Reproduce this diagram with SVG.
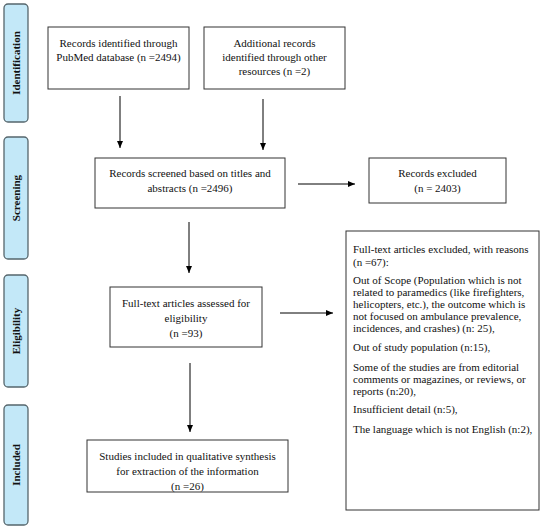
<svg xmlns="http://www.w3.org/2000/svg" width="550" height="529" viewBox="0 0 550 529">
<defs>
<marker id="ah" markerWidth="7" markerHeight="6" refX="7" refY="3" orient="auto" markerUnits="userSpaceOnUse">
<path d="M0,0 L7,3 L0,6 Z" fill="#000"/>
</marker>
<style>
.tab{fill:#C3E8F8;stroke:#56666c;stroke-width:1.3}
.box{fill:#fff;stroke:#333;stroke-width:1}
.tl{font-family:"Liberation Serif","Times New Roman",serif;font-size:11px;font-weight:bold;fill:#111;text-anchor:middle}
.t{font-family:"Liberation Serif","Times New Roman",serif;font-size:11px;fill:#111;text-anchor:middle}
.tL{font-family:"Liberation Serif","Times New Roman",serif;font-size:11px;fill:#111}
.c{stroke:#000;stroke-width:1;fill:none;marker-end:url(#ah)}
</style>
</defs>
<rect width="550" height="529" fill="#fff"/>
<g id="tab-identification"><rect class="tab" x="4" y="4" width="24" height="118" rx="4"/><text class="tl" transform="translate(20,63) rotate(-90)">Identification</text></g>
<g id="tab-screening"><rect class="tab" x="4" y="137" width="24" height="122" rx="4"/><text class="tl" transform="translate(20,198) rotate(-90)">Screening</text></g>
<g id="tab-eligibility"><rect class="tab" x="4" y="275" width="24" height="112" rx="4"/><text class="tl" transform="translate(20,331) rotate(-90)">Eligibility</text></g>
<g id="tab-included"><rect class="tab" x="4" y="405" width="24" height="120" rx="4"/><text class="tl" transform="translate(20,465) rotate(-90)">Included</text></g>

<g id="node-pubmed"><rect class="box" x="48" y="27" width="141" height="62"/>
<text class="t" x="118.5" y="47">Records identified through</text>
<text class="t" x="118.5" y="61">PubMed database (n =2494)</text></g>
<g id="node-additional"><rect class="box" x="204" y="27" width="141" height="62"/>
<text class="t" x="274.5" y="47">Additional records</text>
<text class="t" x="274.5" y="61">identified through other</text>
<text class="t" x="274.5" y="75">resources (n =2)</text></g>
<g id="node-screened"><rect class="box" x="95" y="158" width="190" height="50"/>
<text class="t" x="190" y="177">Records screened based on titles and</text>
<text class="t" x="190" y="192">abstracts (n =2496)</text></g>
<g id="node-excluded"><rect class="box" x="369" y="158" width="137" height="45"/>
<text class="t" x="437.5" y="177">Records excluded</text>
<text class="t" x="437.5" y="192">(n = 2403)</text></g>
<g id="node-eligibility"><rect class="box" x="110" y="287" width="152" height="60"/>
<text class="t" x="186" y="307">Full-text articles assessed for</text>
<text class="t" x="186" y="322">eligibility</text>
<text class="t" x="186" y="337">(n =93)</text></g>
<g id="node-included"><rect class="box" x="87" y="440" width="201" height="52"/>
<text class="t" x="187.5" y="460">Studies included in qualitative synthesis</text>
<text class="t" x="187.5" y="475">for extraction of the information</text>
<text class="t" x="187.5" y="490">(n =26)</text></g>
<g id="node-reasons"><rect class="box" x="346" y="231" width="193" height="279"/>
<text class="tL" x="353" y="253">Full-text articles excluded, with reasons</text>
<text class="tL" x="353" y="266">(n =67):</text>
<text class="tL" x="353" y="284">Out of Scope (Population which is not</text>
<text class="tL" x="353" y="296">related to paramedics (like firefighters,</text>
<text class="tL" x="353" y="308">helicopters, etc.), the outcome which is</text>
<text class="tL" x="353" y="320">not focused on ambulance prevalence,</text>
<text class="tL" x="353" y="332">incidences, and crashes) (n: 25),</text>
<text class="tL" x="353" y="351">Out of study population (n:15),</text>
<text class="tL" x="353" y="371">Some of the studies are from editorial</text>
<text class="tL" x="353" y="383">comments or magazines, or reviews, or</text>
<text class="tL" x="353" y="395">reports (n:20),</text>
<text class="tL" x="353" y="413">Insufficient detail (n:5),</text>
<text class="tL" x="353" y="433">The language which is not English (n:2),</text></g>

<g id="connectors">
<line class="c" x1="120" y1="96" x2="120" y2="148"/>
<line class="c" x1="263" y1="99" x2="263" y2="150"/>
<line class="c" x1="298" y1="184" x2="355" y2="184"/>
<line class="c" x1="189" y1="222" x2="189" y2="273"/>
<line class="c" x1="280" y1="313" x2="333" y2="313"/>
<line class="c" x1="190" y1="363" x2="190" y2="432"/>
</g>
</svg>
